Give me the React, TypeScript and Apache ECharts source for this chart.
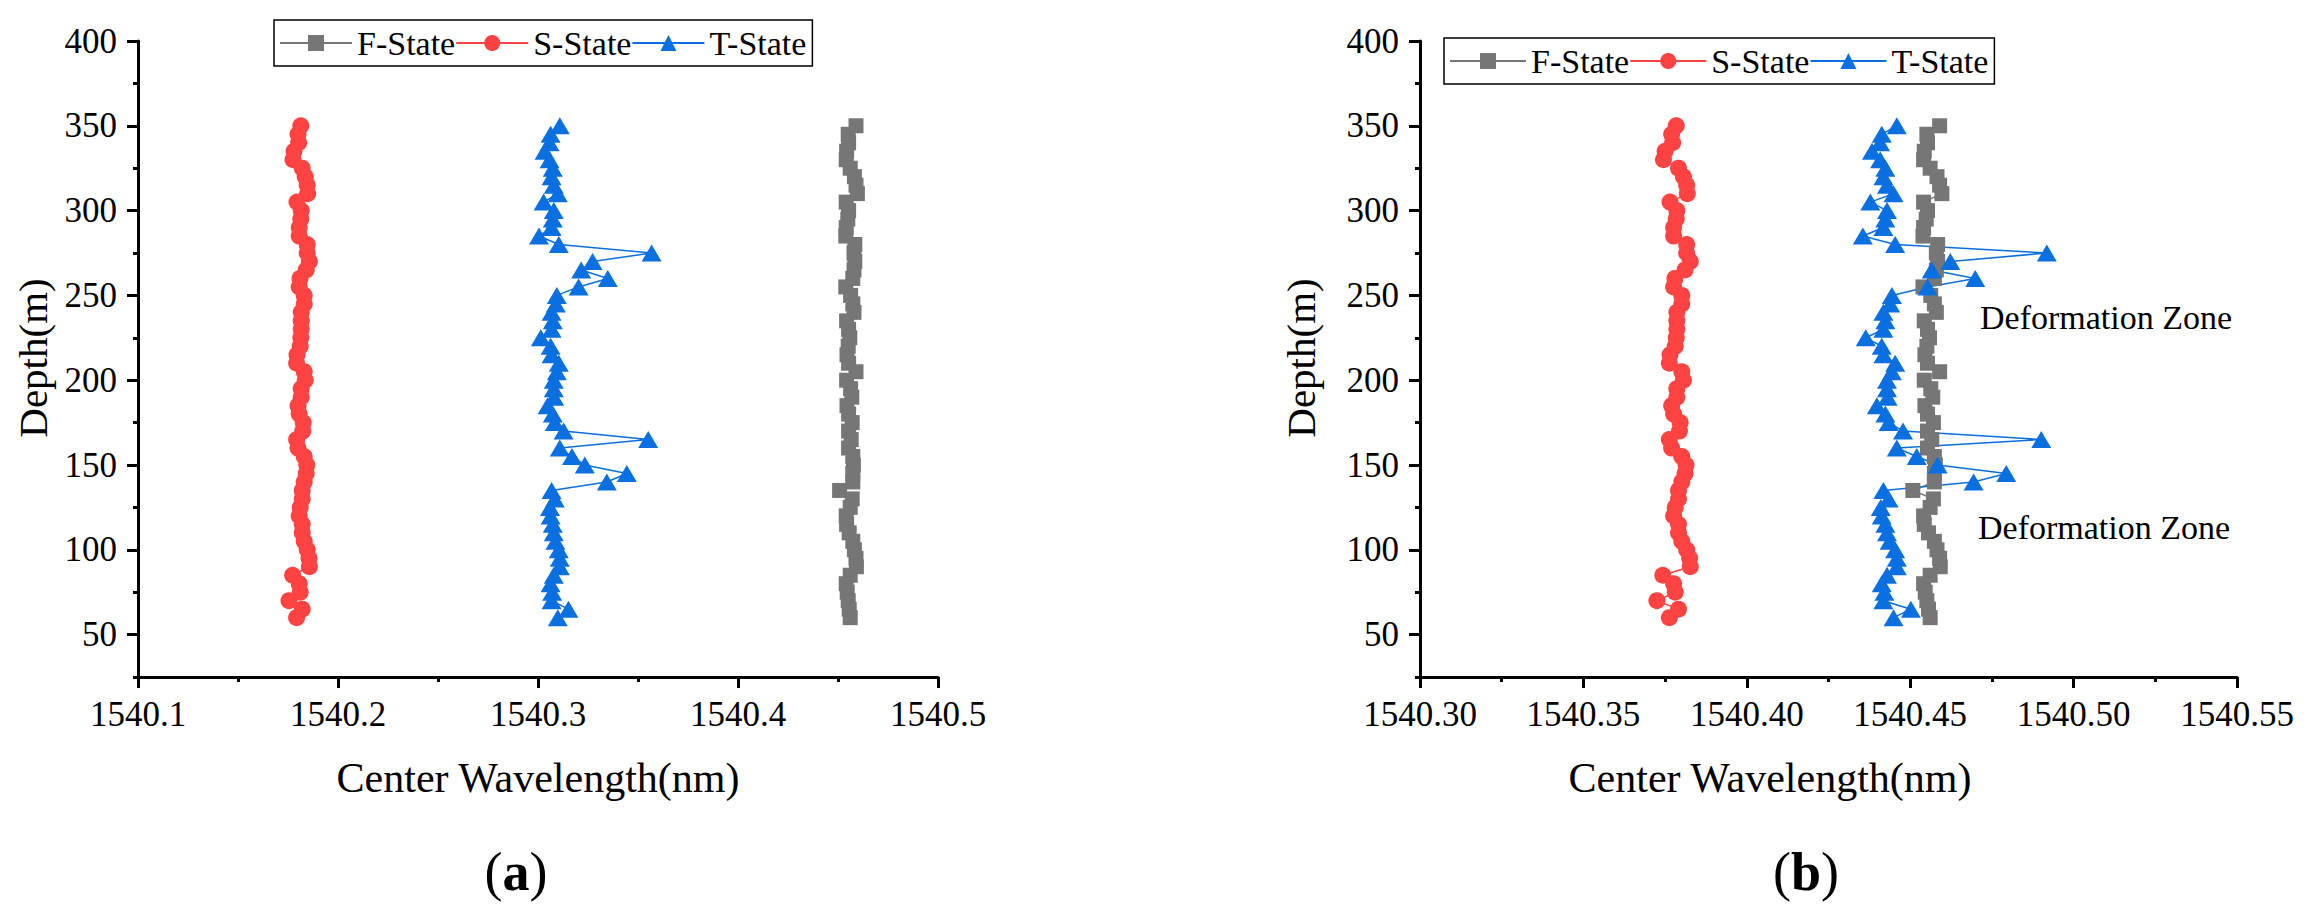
import React, { useEffect, useRef } from "react";
import * as echarts from "echarts";

// Depth of each measuring point (m)
const depth = [
  350, 345, 340, 335, 330, 325, 320, 315, 310, 305, 300, 295, 290, 285, 280, 275, 270, 265, 260, 255,
  250, 245, 240, 235, 230, 225, 220, 215, 210, 205, 200, 195, 190, 185, 180, 175, 170, 165, 160, 155,
  150, 145, 140, 135, 130, 125, 120, 115, 110, 105, 100, 95, 90, 85, 80, 75, 70, 65, 60,
];

// F-State centre wavelength (nm), same in (a) and (b)
const fState = [
  1540.459, 1540.4551, 1540.4553, 1540.4543, 1540.4541, 1540.4561, 1540.4582, 1540.459, 1540.4597, 1540.4541,
  1540.4553, 1540.4549, 1540.4541, 1540.4539, 1540.4584, 1540.458, 1540.4584, 1540.458, 1540.4574, 1540.4539,
  1540.4563, 1540.4574, 1540.458, 1540.4543, 1540.4553, 1540.4559, 1540.4551, 1540.4545, 1540.4553, 1540.459,
  1540.4543, 1540.4563, 1540.4569, 1540.4545, 1540.4553, 1540.4571, 1540.4553, 1540.4566, 1540.4553, 1540.4574,
  1540.4577, 1540.4574, 1540.4574, 1540.4508, 1540.4571, 1540.4561, 1540.4541, 1540.4543, 1540.4556, 1540.4574,
  1540.4582, 1540.459, 1540.4592, 1540.4561, 1540.4541, 1540.4546, 1540.4551, 1540.4556, 1540.4561,
];

// (a) S-State
const sStateA = [
  1540.1814, 1540.18, 1540.1803, 1540.178, 1540.1775, 1540.1821, 1540.1836, 1540.1846, 1540.1848, 1540.1795,
  1540.1816, 1540.1814, 1540.1806, 1540.1806, 1540.1846, 1540.1846, 1540.1857, 1540.1841, 1540.181, 1540.1806,
  1540.1831, 1540.1831, 1540.1816, 1540.1816, 1540.1816, 1540.1814, 1540.1811, 1540.1795, 1540.1793, 1540.1831,
  1540.1836, 1540.1816, 1540.1816, 1540.18, 1540.1806, 1540.1826, 1540.1824, 1540.1793, 1540.18, 1540.1831,
  1540.1844, 1540.1841, 1540.1831, 1540.1821, 1540.1821, 1540.1811, 1540.1806, 1540.1821, 1540.1821, 1540.1831,
  1540.1846, 1540.1855, 1540.1857, 1540.1773, 1540.1806, 1540.1811, 1540.1755, 1540.1821, 1540.1793,
];

// (a) T-State
const tStateA = [
  1540.3109, 1540.3063, 1540.3058, 1540.3033, 1540.3058, 1540.3074, 1540.3068, 1540.3079, 1540.3099, 1540.3028,
  1540.3079, 1540.3074, 1540.3068, 1540.3005, 1540.3104, 1540.3568, 1540.3273, 1540.3216, 1540.3349, 1540.3203,
  1540.3094, 1540.3089, 1540.3068, 1540.3074, 1540.3068, 1540.3014, 1540.3063, 1540.3068, 1540.3104, 1540.3094,
  1540.3079, 1540.3079, 1540.3081, 1540.3048, 1540.3074, 1540.3084, 1540.3128, 1540.3551, 1540.3109, 1540.317,
  1540.3234, 1540.3444, 1540.3344, 1540.3068, 1540.3084, 1540.306, 1540.3063, 1540.3074, 1540.3079, 1540.3087,
  1540.3104, 1540.3109, 1540.3109, 1540.3079, 1540.3063, 1540.3071, 1540.3068, 1540.3152, 1540.3099,
];

// (b) S-State
const sStateB = [
  1540.3784, 1540.377, 1540.3773, 1540.375, 1540.3745, 1540.3791, 1540.3806, 1540.3816, 1540.3818, 1540.3765,
  1540.3786, 1540.3784, 1540.3776, 1540.3776, 1540.3816, 1540.3816, 1540.3827, 1540.3811, 1540.378, 1540.3776,
  1540.3801, 1540.3801, 1540.3786, 1540.3786, 1540.3786, 1540.3784, 1540.3781, 1540.3765, 1540.3763, 1540.3801,
  1540.3806, 1540.3786, 1540.3786, 1540.377, 1540.3776, 1540.3796, 1540.3794, 1540.3763, 1540.377, 1540.3801,
  1540.3814, 1540.3811, 1540.3801, 1540.3791, 1540.3791, 1540.3781, 1540.3776, 1540.3791, 1540.3791, 1540.3801,
  1540.3816, 1540.3825, 1540.3827, 1540.3743, 1540.3776, 1540.3781, 1540.3725, 1540.3791, 1540.3763,
];

// (b) T-State
const tStateB = [
  1540.4459, 1540.4413, 1540.4408, 1540.4383, 1540.4408, 1540.4424, 1540.4418, 1540.4429, 1540.4449, 1540.4378,
  1540.4429, 1540.4424, 1540.4418, 1540.4355, 1540.4454, 1540.4918, 1540.4623, 1540.4566, 1540.4699, 1540.4553,
  1540.4444, 1540.4439, 1540.4418, 1540.4424, 1540.4418, 1540.4364, 1540.4413, 1540.4418, 1540.4454, 1540.4444,
  1540.4429, 1540.4429, 1540.4431, 1540.4398, 1540.4424, 1540.4434, 1540.4478, 1540.4901, 1540.4459, 1540.452,
  1540.4584, 1540.4794, 1540.4694, 1540.4418, 1540.4434, 1540.441, 1540.4413, 1540.4424, 1540.4429, 1540.4437,
  1540.4454, 1540.4459, 1540.4459, 1540.4429, 1540.4413, 1540.4421, 1540.4418, 1540.4502, 1540.4449,
];

const seriesNames = ["F-State", "S-State", "T-State"];
const yMajorTicks = [50, 100, 150, 200, 250, 300, 350, 400];
const yMinorTicks = [25, 75, 125, 175, 225, 275, 325, 375];
const axisTitleX = "Center Wavelength(nm)";
const axisTitleY = "Depth(m)";
const zoneLabel = "Deformation Zone";

const FONT = '"Liberation Serif", "Times New Roman", serif';
const COLORS = { f: "#767676", s: "#FF4242", t: "#0A6FE0" };

function pairs(xs: number[]) {
  return xs.map((x, i) => [x, depth[i]]);
}

function lineSeries(name: string, values: number[], xIdx: number, yIdx: number, symbol: string, size: any, color: string) {
  return {
    name,
    type: "line",
    xAxisIndex: xIdx,
    yAxisIndex: yIdx,
    data: pairs(values),
    symbol,
    symbolSize: size,
    showSymbol: true,
    showAllSymbol: true,
    clip: false,
    lineStyle: { color, width: 1.5 },
    itemStyle: { color, borderWidth: 0 },
    emphasis: { disabled: true },
  };
}

function xAxisCfg(grid: number, min: number, max: number, interval: number, digits: number) {
  return {
    gridIndex: grid,
    type: "value",
    min,
    max,
    interval,
    axisLine: { show: true, onZero: false, lineStyle: { color: "#000", width: 3 } },
    axisTick: { show: true, length: 11, lineStyle: { color: "#000", width: 3 } },
    minorTick: { show: true, splitNumber: 2, length: 5, lineStyle: { color: "#000", width: 3 } },
    axisLabel: {
      fontSize: 35,
      fontFamily: FONT,
      color: "#000",
      margin: 20,
      formatter: (v: number) => v.toFixed(digits),
    },
    splitLine: { show: false },
    minorSplitLine: { show: false },
  };
}

function yAxesCfg(grid: number) {
  return [
    {
      gridIndex: grid,
      type: "value",
      min: 25,
      max: 400,
      position: "left",
      axisLine: { show: true, onZero: false, lineStyle: { color: "#000", width: 3 } },
      axisTick: { show: true, length: 11, customValues: yMajorTicks, lineStyle: { color: "#000", width: 3 } },
      axisLabel: {
        customValues: yMajorTicks,
        fontSize: 35,
        fontFamily: FONT,
        color: "#000",
        margin: 21,
      },
      splitLine: { show: false },
    },
    {
      gridIndex: grid,
      type: "value",
      min: 25,
      max: 400,
      position: "left",
      axisLine: { show: false, onZero: false },
      axisTick: { show: true, length: 5, customValues: yMinorTicks, lineStyle: { color: "#000", width: 3 } },
      axisLabel: { show: false },
      splitLine: { show: false },
    },
  ];
}

function legendCfg(left: number, top: number, itemWidth: number) {
  return {
    left,
    top,
    orient: "horizontal",
    data: seriesNames,
    itemWidth,
    itemHeight: 20,
    itemGap: 0,
    padding: [6, 6, 6, 5],
    borderColor: "#000",
    borderWidth: 1.5,
    selectedMode: false,
    textStyle: { fontFamily: FONT, fontSize: 34, color: "#000" },
  };
}

function textEl(text: string, x: number, y: number, size: number, align: string, rotation = 0) {
  return {
    type: "text",
    x,
    y,
    rotation,
    silent: true,
    style: { text, fontFamily: FONT, fontSize: size, fill: "#000", align, verticalAlign: "middle" },
  };
}

function panelLabel(letter: string, x: number, y: number) {
  return {
    type: "text",
    x,
    y,
    silent: true,
    style: {
      text: `{p|(}{b|${letter}}{p|)}`,
      fontFamily: FONT,
      fontSize: 54,
      fill: "#000",
      align: "center",
      verticalAlign: "middle",
      rich: {
        p: { fontFamily: FONT, fontSize: 54, fontWeight: "normal", fill: "#000" },
        b: { fontFamily: FONT, fontSize: 54, fontWeight: "bold", fill: "#000" },
      },
    },
  };
}

export default function App() {
  const ref = useRef<HTMLDivElement>(null);

  useEffect(() => {
    document.body.style.margin = "0";
    if (!ref.current) return;
    const chart = echarts.init(ref.current, null, { renderer: "svg" });
    const option = {
      animation: false,
      backgroundColor: "#fff",
      grid: [
        { left: 138, top: 41, width: 800, height: 636 },
        { left: 1420, top: 41, width: 817, height: 636 },
      ],
      xAxis: [xAxisCfg(0, 1540.1, 1540.5, 0.1, 1), xAxisCfg(1, 1540.3, 1540.55, 0.05, 2)],
      yAxis: [...yAxesCfg(0), ...yAxesCfg(1)],
      legend: [legendCfg(274, 20, 72), legendCfg(1444, 38, 76)],
      series: [
        lineSeries(seriesNames[0], fState, 0, 0, "rect", 15, COLORS.f),
        lineSeries(seriesNames[1], sStateA, 0, 0, "circle", 17, COLORS.s),
        lineSeries(seriesNames[2], tStateA, 0, 0, "triangle", [20, 17], COLORS.t),
        lineSeries(seriesNames[0], fState, 1, 2, "rect", 15, COLORS.f),
        lineSeries(seriesNames[1], sStateB, 1, 2, "circle", 17, COLORS.s),
        lineSeries(seriesNames[2], tStateB, 1, 2, "triangle", [20, 17], COLORS.t),
      ],
      graphic: [
        textEl(axisTitleY, 33, 358, 41, "center", Math.PI / 2),
        textEl(axisTitleY, 1301, 358, 41, "center", Math.PI / 2),
        textEl(axisTitleX, 538, 778, 42, "center"),
        textEl(axisTitleX, 1770, 778, 42, "center"),
        textEl(zoneLabel, 1980, 317, 34, "left"),
        textEl(zoneLabel, 1978, 527, 34, "left"),
        panelLabel("a", 516, 872),
        panelLabel("b", 1806, 872),
      ],
    };
    chart.setOption(option as any);
    return () => chart.dispose();
  }, []);

  return <div ref={ref} style={{ width: 2319, height: 921 }} />;
}
